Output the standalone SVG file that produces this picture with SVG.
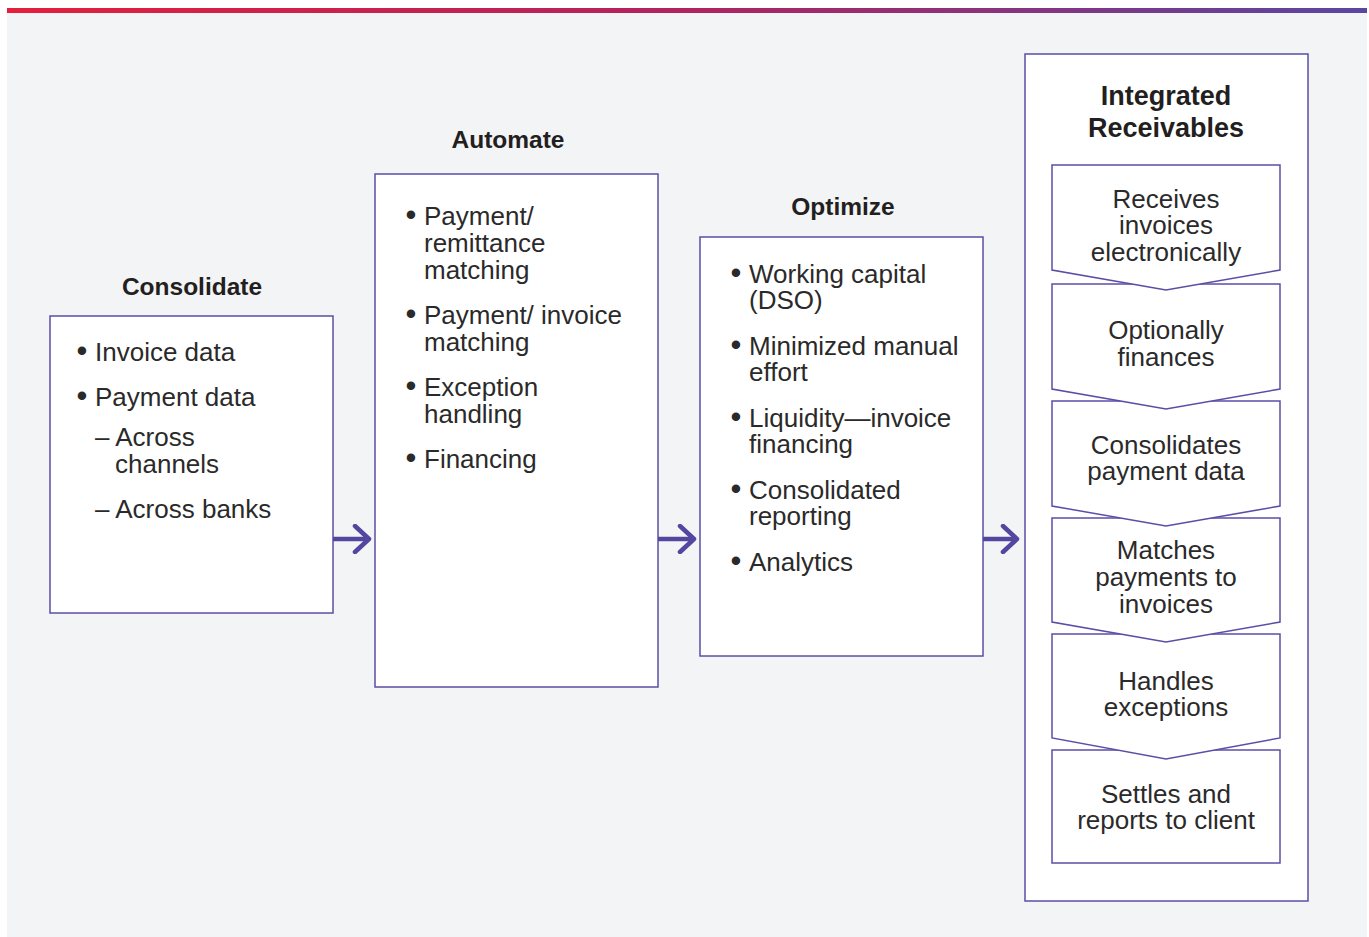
<svg xmlns="http://www.w3.org/2000/svg" width="1369" height="937" viewBox="0 0 1369 937">
<defs>
<linearGradient id="bar" x1="0" y1="0" x2="1" y2="0">
<stop offset="0" stop-color="#e41f3c"/>
<stop offset="0.5" stop-color="#b0235f"/>
<stop offset="1" stop-color="#5a46a1"/>
</linearGradient>
<marker id="head" viewBox="0 0 20 30" refX="17" refY="15" markerWidth="20" markerHeight="30" markerUnits="userSpaceOnUse" orient="auto">
<polyline points="3,2 17,15 3,28" fill="none" stroke="#5446a0" stroke-width="4.5" stroke-linecap="round" stroke-linejoin="round"/>
</marker>
</defs>
<style>
.box{fill:#ffffff;stroke:#5b4ea6;stroke-width:1.5}
.title{font-family:"Liberation Sans",Arial,sans-serif;font-weight:bold;font-size:24.5px;fill:#231f20;text-anchor:middle}
.big{font-size:27px}
.body{font-family:"Liberation Sans",Arial,sans-serif;font-size:26px;fill:#2b2a2a}
.b{font-size:31px}
.c{text-anchor:middle}
.arrow{fill:none;stroke:#5446a0;stroke-width:4.5;marker-end:url(#head)}
</style>
<rect x="7" y="13" width="1360" height="924" fill="#f3f4f6"/>
<rect x="7" y="8" width="1360" height="5" fill="url(#bar)"/>

<g id="consolidate">
<text class="title" x="192" y="295">Consolidate</text>
<rect class="box" x="50" y="316" width="283" height="297"/>
<text class="body" y="361"><tspan class="b" x="76.5">•</tspan><tspan x="95">Invoice data</tspan></text>
<text class="body" y="406"><tspan class="b" x="76.5">•</tspan><tspan x="95">Payment data</tspan></text>
<text class="body" x="95" y="446">– Across</text>
<text class="body" x="115" y="473">channels</text>
<text class="body" x="95" y="518">– Across banks</text>
</g>

<g id="automate">
<text class="title" x="508" y="148">Automate</text>
<rect class="box" x="375" y="174" width="283" height="513"/>
<text class="body" y="225"><tspan class="b" x="405.5">•</tspan><tspan x="424">Payment/</tspan></text>
<text class="body" x="424" y="252">remittance</text>
<text class="body" x="424" y="279">matching</text>
<text class="body" y="324"><tspan class="b" x="405.5">•</tspan><tspan x="424">Payment/ invoice</tspan></text>
<text class="body" x="424" y="351">matching</text>
<text class="body" y="396"><tspan class="b" x="405.5">•</tspan><tspan x="424">Exception</tspan></text>
<text class="body" x="424" y="423">handling</text>
<text class="body" y="468"><tspan class="b" x="405.5">•</tspan><tspan x="424">Financing</tspan></text>
</g>

<g id="optimize">
<text class="title" x="843" y="215">Optimize</text>
<rect class="box" x="700" y="237" width="283" height="419"/>
<text class="body" y="283"><tspan class="b" x="730.5">•</tspan><tspan x="749">Working capital</tspan></text>
<text class="body" x="749" y="309">(DSO)</text>
<text class="body" y="355"><tspan class="b" x="730.5">•</tspan><tspan x="749">Minimized manual</tspan></text>
<text class="body" x="749" y="381">effort</text>
<text class="body" y="427"><tspan class="b" x="730.5">•</tspan><tspan x="749">Liquidity—invoice</tspan></text>
<text class="body" x="749" y="453">financing</text>
<text class="body" y="499"><tspan class="b" x="730.5">•</tspan><tspan x="749">Consolidated</tspan></text>
<text class="body" x="749" y="525">reporting</text>
<text class="body" y="571"><tspan class="b" x="730.5">•</tspan><tspan x="749">Analytics</tspan></text>
</g>

<g id="integrated">
<rect class="box" x="1025" y="54" width="283" height="847"/>
<text class="title big" x="1166" y="105">Integrated</text>
<text class="title big" x="1166" y="137">Receivables</text>
</g>

<g id="step6">
<rect class="box" x="1052" y="750" width="228" height="113"/>
<text class="body c" x="1166" y="803">Settles and</text>
<text class="body c" x="1166" y="829">reports to client</text>
</g>
<g id="step5">
<path class="box" d="M1052,634 H1280 V738 L1166,759 L1052,738 Z"/>
<text class="body c" x="1166" y="690">Handles</text>
<text class="body c" x="1166" y="716">exceptions</text>
</g>
<g id="step4">
<path class="box" d="M1052,518 H1280 V622 L1166,642 L1052,622 Z"/>
<text class="body c" x="1166" y="559">Matches</text>
<text class="body c" x="1166" y="586">payments to</text>
<text class="body c" x="1166" y="613">invoices</text>
</g>
<g id="step3">
<path class="box" d="M1052,401 H1280 V506 L1166,526 L1052,506 Z"/>
<text class="body c" x="1166" y="454">Consolidates</text>
<text class="body c" x="1166" y="480">payment data</text>
</g>
<g id="step2">
<path class="box" d="M1052,284 H1280 V389 L1166,409 L1052,389 Z"/>
<text class="body c" x="1166" y="339">Optionally</text>
<text class="body c" x="1166" y="366">finances</text>
</g>
<g id="step1">
<path class="box" d="M1052,165 H1280 V270 L1166,290 L1052,270 Z"/>
<text class="body c" x="1166" y="208">Receives</text>
<text class="body c" x="1166" y="234">invoices</text>
<text class="body c" x="1166" y="261">electronically</text>
</g>

<g id="connectors">
<line class="arrow" x1="333" y1="539" x2="369" y2="539"/>
<line class="arrow" x1="658" y1="539" x2="694" y2="539"/>
<line class="arrow" x1="983" y1="539" x2="1017" y2="539"/>
</g>
</svg>
